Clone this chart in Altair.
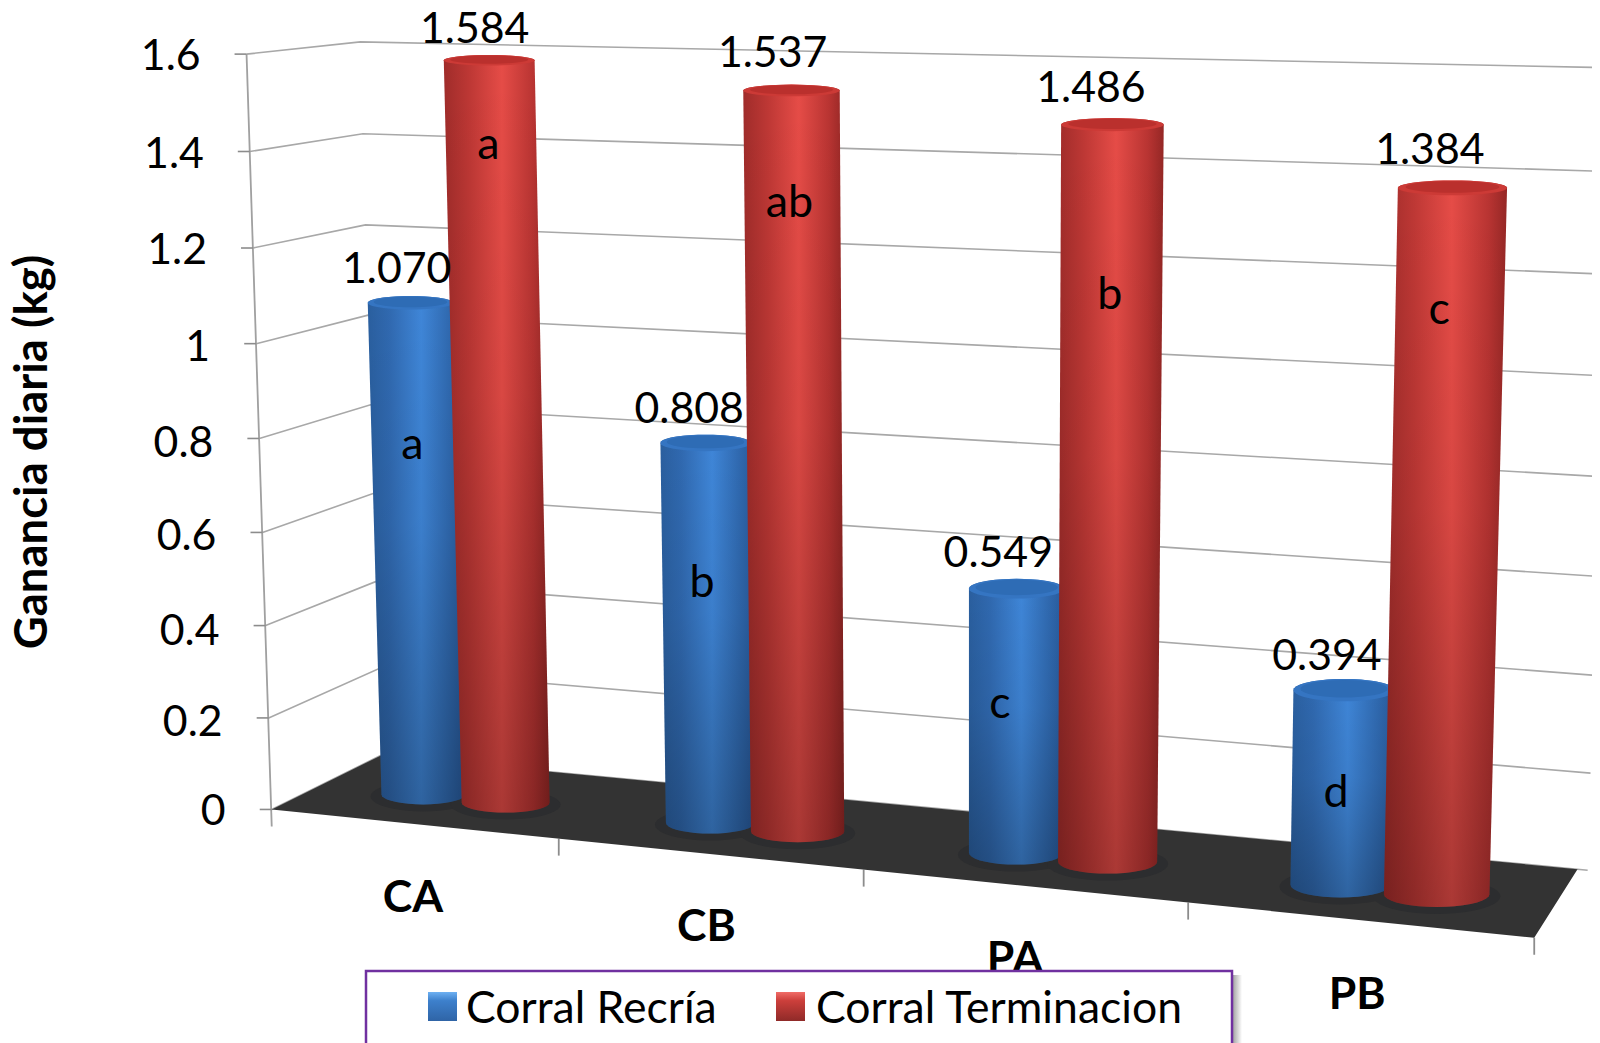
import numpy as np
import pandas as pd
import altair as alt

# ---------- data ----------
categories = ["CA", "CB", "PA", "PB"]
recria = [1.070, 0.808, 0.549, 0.394]
terminacion = [1.584, 1.537, 1.486, 1.384]
letters_recria = ["a", "b", "c", "d"]
letters_terminacion = ["a", "ab", "b", "c"]
tick_values = [1.6, 1.4, 1.2, 1.0, 0.8, 0.6, 0.4, 0.2, 0.0]
tick_labels = ["1.6", "1.4", "1.2", "1", "0.8", "0.6", "0.4", "0.2", "0"]
series_names = ["Corral Recría", "Corral Terminacion"]
y_title = "Ganancia diaria (kg)"

# ---------- layout: a 3-D camera fitted to the picture's frame ----------
W, H = 1592, 1043
FONT = "Lato"
anchors = [  # (category pos, value, depth) -> pixel
    ((0, 0, 0), (272, 808)), ((0, 1.6, 0), (245, 53)),
    ((0, 0, 1), (380, 757)), ((0, 1.6, 1), (362, 43)),
    ((4, 0, 0), (1535, 937)), ((4, 1.6, 0), (1558, 87)),
    ((4, 0, 1), (1577, 870)), ((4, 1.6, 1), (1600, 64)),
]
A, b = [], []
for (u, v, z), (px, py) in anchors:
    A.append([u, v, z, 1, 0, 0, 0, 0, -px * u, -px * v, -px * z]); b.append(px)
    A.append([0, 0, 0, 0, u, v, z, 1, -py * u, -py * v, -py * z]); b.append(py)
P = np.append(np.linalg.lstsq(np.array(A, float), np.array(b, float), rcond=None)[0], 1).reshape(3, 4)


def project(u, v, z):
    q = P @ np.array([u, v, z, 1.0])
    return q[0] / q[2], q[1] / q[2]


X = alt.X("x:Q", scale=alt.Scale(domain=[8, W], nice=False, zero=False), axis=None)
Y = alt.Y("y:Q", scale=alt.Scale(domain=[H, 8], nice=False, zero=False), axis=None)
X2 = alt.X2("x2:Q")
Y2 = alt.Y2("y2:Q")

BAR_CENTER = [[0.366, 0.366, 0.370, 0.372], [0.659, 0.659, 0.659, 0.657]]
BAR_DEPTH = 0.45
RADIUS = [0.150, 0.155]
RY_BASE = 10.0
LABEL_DX = [[-11, -11, -9, -4], [-16, -18, -18, -17]]
LABEL_DY = [[-23, -21, -19, -15], [-24, -29, -27, -27]]
LETTER_AT = [[0.76, 0.505, 0.30, 0.175], [1.41, 1.31, 1.15, 1.15]]
LETTER_DX = [[1, 0, -7, 7], [-4, -2, 2, -5]]
TICK_DY = [0, 1, 1, 3, 5, 4, 7, 6, 4]
SCALE_TEXT = 0.995
TEXT_DROP = 3


def tx(a):
    return (a - 8) * SCALE_TEXT + 8


def ty(a):
    return tx(a) + TEXT_DROP


def ellipse(i, s, value):
    cu = i + BAR_CENTER[s][i]
    cx, cy = project(cu, value, BAR_DEPTH)
    lx, _ = project(cu - RADIUS[s], value, BAR_DEPTH)
    rx_, _ = project(cu + RADIUS[s], value, BAR_DEPTH)
    growth = 1 + 0.09 * i
    return (lx + rx_) / 2, cy, (rx_ - lx) / 2, RY_BASE * growth * (1 - 0.3 * value)


def text_anchor(i, s, value):
    cu = i + 0.5 + (-0.155 if s == 0 else 0.155)
    cx, cy = project(cu, value, 0.5)
    return cx, cy, 12.0 * (1 + 0.09 * i) * (1 - 0.2 * value)


def cylinder_rows(i, s, value):
    tx_, ty_, trx, try_ = ellipse(i, s, value)
    bx, by, brx, bry = ellipse(i, s, 0)
    rows = []
    for t in np.linspace(np.pi / 2, 0, 10):
        rows.append((tx_ - trx * np.cos(t), tx_ + trx * np.cos(t), ty_ - try_ * np.sin(t)))
    for t in np.linspace(0, np.pi / 2, 10):
        rows.append((bx - brx * np.cos(t), bx + brx * np.cos(t), by + bry * np.sin(t)))
    return rows


def ellipse_rows(cx, cy, rx, ry):
    rows = []
    for t in np.linspace(np.pi / 2, -np.pi / 2, 21):
        rows.append((cx - rx * np.cos(t), cx + rx * np.cos(t), cy - ry * np.sin(t)))
    return rows


def frame(rows, key):
    return pd.DataFrame([{"x": a, "x2": c, "y": y, "k": key} for a, c, y in rows])


def area_layer(df, fill, **kw):
    return alt.Chart(df).mark_area(orient="horizontal", fill=fill, line=False, **kw).encode(
        x=X, x2=X2, y=Y, detail="k:N")


def hgrad(stops):
    return alt.Gradient(gradient="linear", x1=0, x2=1, y1=0, y2=0,
                        stops=[alt.GradientStop(offset=o, color=c) for o, c in stops])


def vgrad(stops):
    return alt.Gradient(gradient="linear", x1=0, x2=0, y1=0, y2=1,
                        stops=[alt.GradientStop(offset=o, color=c) for o, c in stops])


layers = []

# ---------- gridlines ----------
grid = []
for v in tick_values:
    for n, (u, z) in enumerate([(0, 0), (0, 1), (4.03, 1)]):
        px, py = project(u, v, z)
        grid.append({"x": px, "y": py, "k": str(v), "i": n})
layers.append(alt.Chart(pd.DataFrame(grid)).mark_line(color="#a8a8a8", strokeWidth=1.6, clip=True).encode(
    x=X, y=Y, detail="k:N", order="i:Q"))

# ---------- axis frame and ticks ----------
rules = []
for n, v in enumerate(tick_values):
    px, py = project(0, v, 0)
    rules.append({"x": px - 12, "x2": px, "y": py, "y2": py})
axis_top = project(0, 1.6, 0)
axis_bot = project(0, 0, 0)
axis_df = pd.DataFrame([{"x": axis_top[0], "y": axis_top[1], "k": "a", "i": 0},
                        {"x": axis_bot[0], "y": axis_bot[1] + 17, "k": "a", "i": 1}])
layers.append(alt.Chart(axis_df).mark_line(color="#a0a0a0", strokeWidth=1.8).encode(x=X, y=Y, detail="k:N", order="i:Q"))
layers.append(alt.Chart(pd.DataFrame(rules)).mark_rule(color="#8c8c8c", strokeWidth=1.6).encode(x=X, x2=X2, y=Y))
xticks = []
for u in range(1, 5):
    px, py = project(u, 0, 0)
    xticks.append({"x": px, "y": py, "y2": py + 17})
layers.append(alt.Chart(pd.DataFrame(xticks)).mark_rule(color="#8c8c8c", strokeWidth=1.8).encode(x=X, y=Y, y2=Y2))

# ---------- floor ----------
corners = [project(0, 0, 0), project(0, 0, 1), project(4, 0, 1), project(4, 0, 0)]
floor_rows = []
for _, yy in sorted(corners, key=lambda c: c[1]):
    xs = []
    for a, c in zip(corners, corners[1:] + corners[:1]):
        lo, hi = min(a[1], c[1]), max(a[1], c[1])
        if lo <= yy <= hi and hi > lo:
            xs.append(a[0] + (yy - a[1]) / (c[1] - a[1]) * (c[0] - a[0]))
    floor_rows.append((min(xs), max(xs), yy))
layers.append(area_layer(frame(floor_rows, "floor"), "#333333"))

# ---------- base shadows ----------
shadows = []
for s in range(2):
    for i in range(4):
        cx, cy, rx, ry = ellipse(i, s, 0)
        shadows.append(frame(ellipse_rows(cx, cy + 2, rx + 11, ry + 5), f"sh{s}{i}"))
layers.append(area_layer(pd.concat(shadows), "#2c2d2f"))

# ---------- cylinders ----------
STYLES = [
    {"body": [(0, "#2a5f9f"), (0.22, "#3069b0"), (0.55, "#3f86d8"), (0.85, "#2f68ae"), (1, "#28599a")],
     "rim": "#3575c2", "cap": "#2e6cb5"},
    {"body": [(0, "#a02c2a"), (0.25, "#bf3835"), (0.55, "#e64c47"), (0.85, "#b93432"), (1, "#952725")],
     "rim": "#cc3a36", "cap": "#ba302d"},
]
SHADE = vgrad([(0, "rgba(0,0,0,0)"), (0.45, "rgba(0,0,0,0.06)"), (1, "rgba(0,0,0,0.26)")])
for s, values in enumerate([recria, terminacion]):
    bodies, rims, caps = [], [], []
    for i, v in enumerate(values):
        key = f"{s}{i}"
        bodies.append(frame(cylinder_rows(i, s, v), key))
        cx, cy, rx, ry = ellipse(i, s, v)
        rims.append(frame(ellipse_rows(cx, cy, rx, ry), key))
        caps.append(frame(ellipse_rows(cx, cy - ry * 0.12, rx * 0.86, ry * 0.78), key))
    body_df = pd.concat(bodies)
    layers.append(area_layer(body_df, hgrad(STYLES[s]["body"])))
    layers.append(area_layer(body_df, SHADE))
    layers.append(area_layer(pd.concat(rims), STYLES[s]["rim"]))
    layers.append(area_layer(pd.concat(caps), STYLES[s]["cap"]))

# ---------- text ----------
value_text, letter_text = [], []
for s, (values, letters) in enumerate([(recria, letters_recria), (terminacion, letters_terminacion)]):
    for i, v in enumerate(values):
        cx, cy, ry = text_anchor(i, s, v)
        value_text.append({"x": tx(cx + LABEL_DX[s][i]), "y": ty(cy - ry + LABEL_DY[s][i]), "t": f"{v:.3f}"})
        lx, ly, _ = text_anchor(i, s, LETTER_AT[s][i])
        letter_text.append({"x": tx(lx + LETTER_DX[s][i]), "y": ty(ly), "t": letters[i]})


def text_layer(rows, size=42.8, **kw):
    base = dict(font=FONT, fontSize=size, color="#000000", baseline="middle")
    base.update(kw)
    return alt.Chart(pd.DataFrame(rows)).mark_text(**base).encode(x=X, y=Y, text="t:N")


layers.append(text_layer(value_text))
layers.append(text_layer(letter_text, size=44.8))

tick_text = []
for v, lab, dy in zip(tick_values, tick_labels, TICK_DY):
    px, py = project(0, v, 0)
    tick_text.append({"x": tx(px - 45), "y": ty(py + dy), "t": lab})
layers.append(text_layer(tick_text, align="right"))

CAT_X = [415, 710, 1020, 1364]
CAT_Y = [900, 930, 962, 998]
layers.append(text_layer([{"x": tx(a), "y": ty(c), "t": t} for a, c, t in zip(CAT_X, CAT_Y, categories)],
                         size=44.5, fontWeight="bold"))
layers.append(text_layer([{"x": 33, "y": 452, "t": y_title}], size=45.5, angle=270, fontWeight="bold"))

# ---------- legend ----------
LEG = {"x": 366, "x2": 1232, "y": 971, "y2": 1100}
layers.append(alt.Chart(pd.DataFrame([{**LEG, "x": 1232, "x2": 1242, "y": 975}])).mark_rect(
    fill=hgrad([(0, "#9a9a9a"), (1, "#ffffff")]), clip=True).encode(x=X, x2=X2, y=Y, y2=Y2))
layers.append(alt.Chart(pd.DataFrame([LEG])).mark_rect(
    fill="#ffffff", stroke="#7030a0", strokeWidth=2.5, clip=True).encode(x=X, x2=X2, y=Y, y2=Y2))
SWATCH = [(428, 457), (776, 805)]
SW_FILL = [vgrad([(0, "#6db0f2"), (0.3, "#3d80cc"), (1, "#2f64a6")]),
           vgrad([(0, "#f06c67"), (0.3, "#cc3f3b"), (1, "#8f2a28")])]
for (a, c), f in zip(SWATCH, SW_FILL):
    layers.append(alt.Chart(pd.DataFrame([{"x": a, "x2": c, "y": 992, "y2": 1021}])).mark_rect(fill=f).encode(
        x=X, x2=X2, y=Y, y2=Y2))
LEG_TX = [466, 816]
layers.append(text_layer([{"x": a, "y": 1010, "t": t} for a, t in zip(LEG_TX, series_names)], size=44.5, align="left"))

chart = alt.layer(*layers).properties(
    width=W - 8, height=H - 8, padding=0, autosize=alt.AutoSizeParams(type="none"),
    background="#ffffff",
).configure_view(stroke=None)

chart.save("out.html", embed_options={"renderer": "svg", "actions": False})
